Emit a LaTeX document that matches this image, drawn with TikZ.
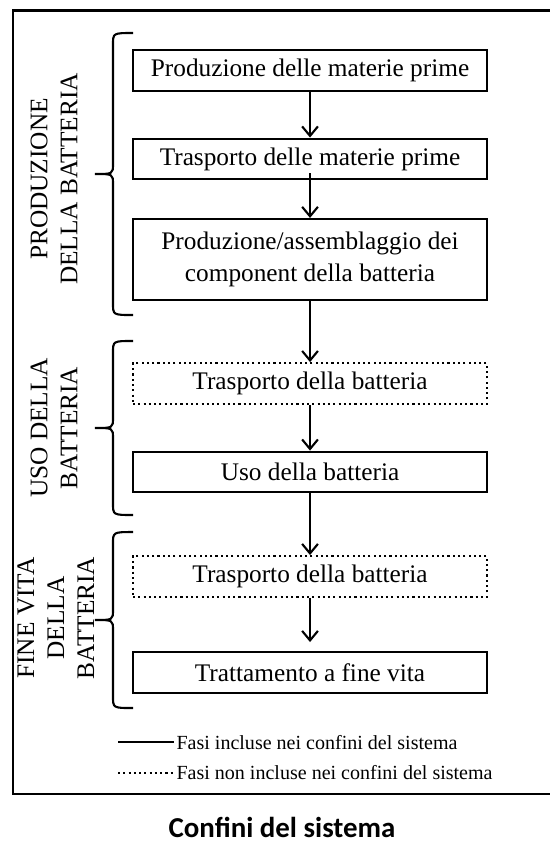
\documentclass[tikz,border=0pt]{standalone}
\usepackage{fontspec}
\setmainfont{Liberation Serif}
\newfontfamily\titlefont{Carlito}
\usetikzlibrary{arrows.meta,positioning}

% curly bracket opening to the right: #1 top y, #2 bottom y, #3 middle y
\newcommand\grpbrace[3]{%
  \draw[grp] (2.217,#1) .. controls (1.883,#1) .. (1.883,#1-0.2)
    -- (1.883,#3+0.17) .. controls (1.883,#3) .. (1.583,#3)
    .. controls (1.883,#3) .. (1.883,#3-0.17)
    -- (1.883,#2+0.2) .. controls (1.883,#2) .. (2.217,#2);}

\begin{document}
\begin{tikzpicture}[font=\fontsize{12}{15}\selectfont,>={Straight Barb[length=4.5pt,width=7.5pt]},
  phase/.style={draw,line width=1pt,minimum width=5.9cm,minimum height=0.68cm,align=center,inner sep=2pt},
  outside/.style={phase,dash pattern=on 1pt off 1.5pt},
  flow/.style={->,line width=1pt},
  grp/.style={line width=1pt},
  grplabel/.style={rotate=90,align=center,font=\fontsize{12}{14.2}\selectfont,inner sep=0pt},
  legtext/.style={font=\fontsize{9.5}{11}\selectfont,anchor=west,inner sep=1pt}]
\useasboundingbox (0,0) rectangle (9.15,-14.033);
% system boundary
\draw[line width=1.4pt] (9.3,-0.167) -| (0.217,-13.233) -- (9.3,-13.233);
% phases
\node[phase] (pr1) at (5.167,-1.175) {Produzione delle materie prime};
\node[phase] (pr2) at (5.167,-2.65) {Trasporto delle materie prime};
\node[phase,minimum height=1.35cm] (pr3) at (5.167,-4.325) {Produzione/assemblaggio dei\\component della batteria};
\node[outside] (us1) at (5.167,-6.392) {Trasporto della batteria};
\node[phase] (us2) at (5.167,-7.867) {Uso della batteria};
\node[outside] (fv1) at (5.167,-9.608) {Trasporto della batteria};
\node[phase] (fv2) at (5.167,-11.208) {Trattamento a fine vita};
\draw[flow] (pr1) -- (pr2);
\draw[flow,shorten <=-0.12cm] (pr2) -- (pr3);
\draw[flow] (pr3) -- (us1);
\draw[flow] (us1) -- (us2);
\draw[flow] (us2) -- (fv1);
\draw[flow,shorten >=0.15cm] (fv1) -- (fv2);
% groups
\grpbrace{-0.55}{-5.25}{-2.9}
\grpbrace{-5.683}{-8.583}{-7.133}
\grpbrace{-8.867}{-11.8}{-10.333}
\node[grplabel] (g1) at (0.9,-2.983) {PRODUZIONE\\DELLA BATTERIA};
\node[grplabel] (g2) at (0.9,-7.133) {USO DELLA\\BATTERIA};
\node[grplabel] (g3) at (0.93,-10.3) {FINE VITA\\DELLA\\BATTERIA};
% legend
\node[legtext] (leg1) at (2.9,-12.367) {Fasi incluse nei confini del sistema};
\node[legtext] (leg2) at (2.9,-12.883) {Fasi non incluse nei confini del sistema};
\coordinate (s1) at (1.967,-12.367);
\coordinate (s2) at (1.967,-12.883);
\draw[line width=1pt] (s1) -- (leg1.west);
\draw[line width=1pt,dash pattern=on 1pt off 1.5pt] (s2) -- (leg2.west);
\node[font=\titlefont\bfseries\fontsize{13.7}{16}\selectfont,anchor=base] (title) at (4.7,-13.95) {Confini del sistema};
\end{tikzpicture}
\end{document}
